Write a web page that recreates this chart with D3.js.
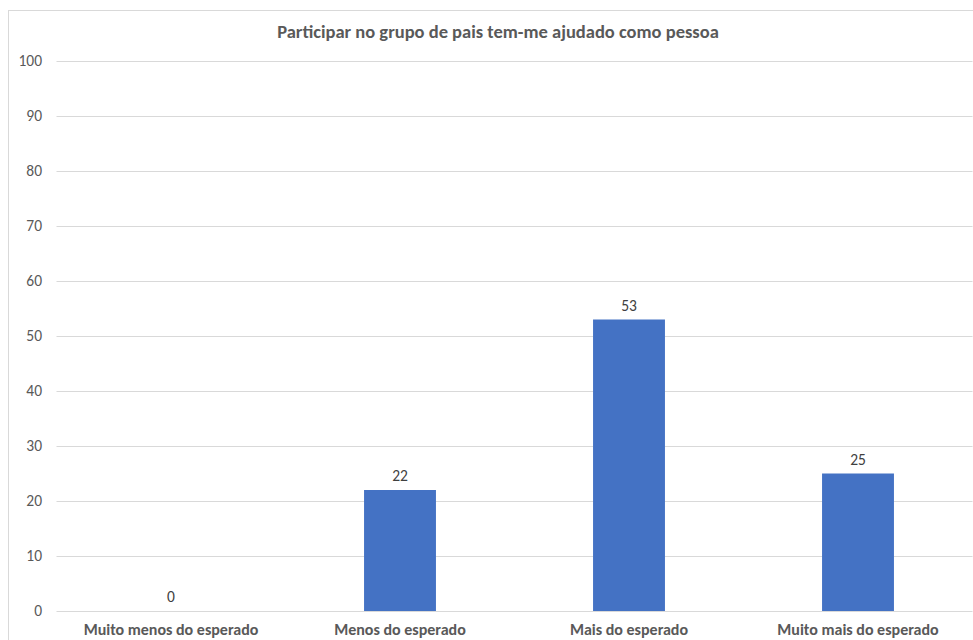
<!DOCTYPE html>
<html>
<head>
<meta charset="utf-8">
<script src="https://cdn.jsdelivr.net/npm/d3@7"></script>
<style>
  body { margin: 0; background: #fff; }
  text { font-family: Calibri, Carlito, Lato, sans-serif; }
</style>
</head>
<body>
<div id="chart"></div>
<script>
const categories = ["Muito menos do esperado", "Menos do esperado", "Mais do esperado", "Muito mais do esperado"];
const values = [0, 22, 53, 25];
const yTicks = [0, 10, 20, 30, 40, 50, 60, 70, 80, 90, 100];
const title = "Participar no grupo de pais tem-me ajudado como pessoa";

const width = 973, height = 640;
const margin = {top: 61, right: 0, bottom: 29, left: 56.5};

const svg = d3.select("#chart").append("svg")
  .attr("width", width)
  .attr("height", height);

// chart border
svg.append("rect")
  .attr("x", 8.5).attr("y", 10.5)
  .attr("width", 980).attr("height", 700)
  .attr("fill", "none").attr("stroke", "#d9d9d9");

const x = d3.scaleBand()
  .domain(categories)
  .range([margin.left, 972.5])
  .paddingInner(0.686)
  .paddingOuter(0.343);

const y = d3.scaleLinear()
  .domain([0, 100])
  .range([611, margin.top]);

// gridlines
svg.append("g")
  .selectAll("line")
  .data(yTicks)
  .enter()
  .append("line")
  .attr("x1", margin.left).attr("x2", 972.5)
  .attr("y1", d => Math.round(y(d)) + 0.5)
  .attr("y2", d => Math.round(y(d)) + 0.5)
  .attr("stroke", "#d9d9d9")
  .attr("stroke-width", 1);

// y labels
svg.append("g")
  .selectAll("text")
  .data(yTicks)
  .enter()
  .append("text")
  .attr("x", 42)
  .attr("y", d => y(d))
  .attr("dy", "0.35em")
  .attr("text-anchor", "end")
  .attr("fill", "#595959")
  .style("font-size", "15.5px")
  .text(d => d);

// bars
svg.append("g")
  .selectAll("rect")
  .data(values)
  .enter()
  .append("rect")
  .attr("x", (d, i) => x(categories[i]))
  .attr("width", x.bandwidth())
  .attr("y", d => y(d))
  .attr("height", d => y(0) - y(d))
  .attr("fill", "#4472c4");

// value labels
svg.append("g")
  .selectAll("text")
  .data(values)
  .enter()
  .append("text")
  .attr("x", (d, i) => x(categories[i]) + x.bandwidth() / 2)
  .attr("y", d => y(d) - 9)
  .attr("text-anchor", "middle")
  .attr("fill", "#404040")
  .style("font-size", "15.5px")
  .text(d => d);

// category labels
svg.append("g")
  .selectAll("text")
  .data(categories)
  .enter()
  .append("text")
  .attr("x", d => x(d) + x.bandwidth() / 2)
  .attr("y", 635)
  .attr("text-anchor", "middle")
  .attr("fill", "#595959")
  .style("font-size", "16px")
  .style("font-weight", "bold")
  .text(d => d);

// title
svg.append("text")
  .attr("x", 498)
  .attr("y", 38)
  .attr("text-anchor", "middle")
  .attr("fill", "#595959")
  .style("font-size", "18.5px")
  .style("font-weight", "bold")
  .text(title);
</script>
</body>
</html>
